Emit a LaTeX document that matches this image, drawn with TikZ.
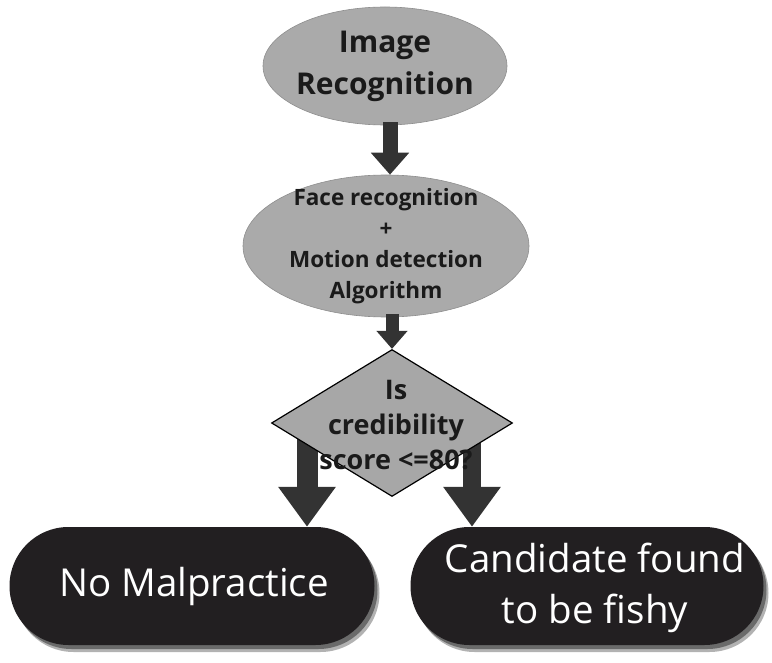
\documentclass[tikz,border=0pt]{standalone}
\usepackage{fontspec}
\setmainfont{Open Sans}
\usetikzlibrary{shapes.geometric,arrows.meta,shadows,calc,backgrounds}
\definecolor{gfill}{HTML}{AAAAAA}
\definecolor{gline}{HTML}{8E8E8E}
\definecolor{dfill}{HTML}{A7A7A7}
\definecolor{pillc}{HTML}{221F21}
\definecolor{arrowc}{HTML}{333333}
\definecolor{txtc}{HTML}{1A1A1A}
\begin{document}
\begin{tikzpicture}[x=1pt,y=-1pt,
  oval/.style={ellipse, fill=gfill, draw=gline, line width=0.6pt, inner sep=0pt},
  decide/.style={diamond, fill=dfill, draw=black, line width=1.2pt, inner sep=0pt},
  pill/.style={rectangle, rounded corners=59pt, fill=pillc, inner sep=0pt,
    minimum height=118pt,
    drop shadow={shadow xshift=5pt, shadow yshift=-7pt, fill=black, opacity=0.3},
    drop shadow={shadow xshift=3pt, shadow yshift=-4pt, fill=black, opacity=0.4}},
  graytext/.style={text=txtc, align=center},
  blk/.style n args={3}{draw=arrowc, line width=#1, -{Triangle[width=#2, length=#3]}}
]
\useasboundingbox (0,0) rectangle (772,663);

\node[oval, minimum width=244pt, minimum height=118pt,
  label={[graytext, font=\fontsize{30}{42}\selectfont\bfseries]center:Image\\Recognition}]
  (e1) at (385,66) {};
\node[oval, minimum width=286pt, minimum height=142pt,
  label={[graytext, font=\fontsize{22.5}{31}\selectfont\bfseries]center:Face recognition\\+\\Motion detection\\Algorithm}]
  (e2) at (386,246) {};
\node[decide, minimum width=241pt, minimum height=147pt,
  label={[graytext, font=\fontsize{27}{35}\selectfont\bfseries, yshift=-2pt, xshift=4pt]center:Is\\credibility\\score <=80?}]
  (d) at (392,423) {};

\node[pill, minimum width=365pt,
  label={[text=white, font=\fontsize{38.5}{51}\selectfont, xshift=2pt]center:No Malpractice}]
  (nm) at (192,586) {};
\node[pill, minimum width=353pt,
  label={[text=white, align=center, font=\fontsize{38.5}{51}\selectfont, yshift=-2pt, xshift=8pt]center:Candidate found\\to be fishy}]
  (cf) at (587,586) {};

\coordinate (a1) at ([xshift=5pt]e1.south);
\coordinate (ls) at ([xshift=-85pt,yshift=-5pt]d.center);
\coordinate (rs) at ([xshift=80pt,yshift=-5pt]d.center);

\begin{pgfonlayer}{background}
\fill[white] (0,0) rectangle (772,663);
\draw[blk={21pt}{55pt}{40pt}] (ls) -- (ls |- nm.north);
\draw[blk={18pt}{55pt}{40pt}] (rs) -- (rs |- cf.north);
\end{pgfonlayer}

\draw[blk={15pt}{37pt}{22pt}] ([yshift=3pt]a1) -- (a1 |- e2.north);
\draw[blk={13pt}{30pt}{18pt}] ([yshift=3pt]d.north |- e2.south) -- (d.north);
\end{tikzpicture}
\end{document}
